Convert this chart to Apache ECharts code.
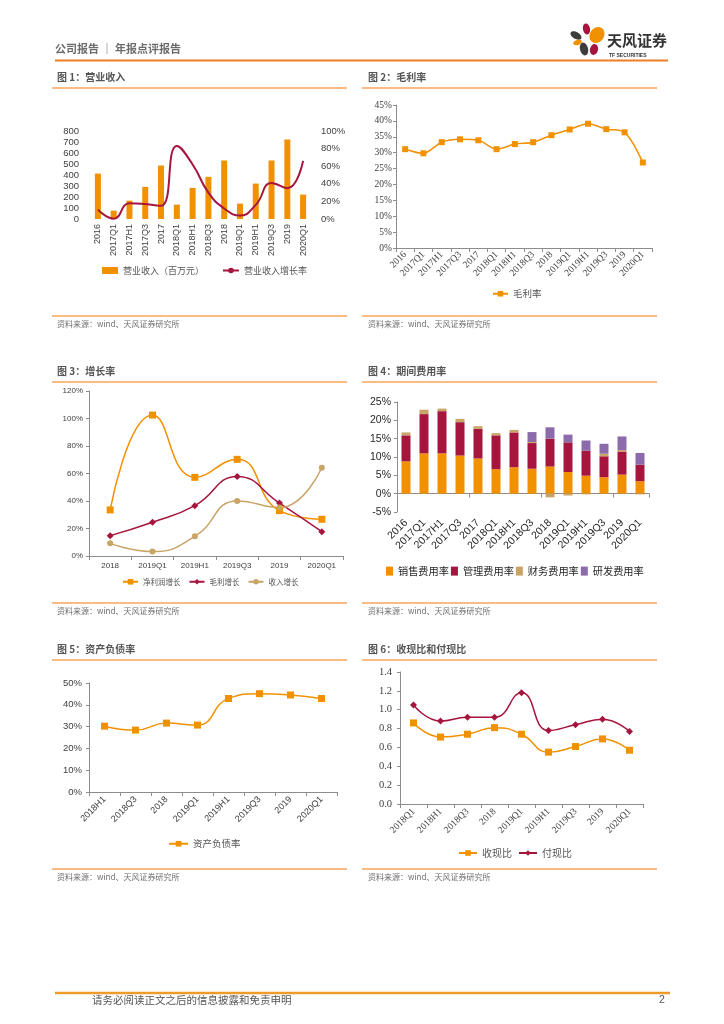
<!DOCTYPE html>
<html><head><meta charset="utf-8">
<script src="https://cdn.jsdelivr.net/npm/echarts@6/dist/echarts.min.js"></script>
<style>html,body{margin:0;padding:0;background:#fff}#c{width:724px;height:1024px}</style>
</head><body><div id="c"></div>
<script>
// ---------------- DATA ----------------
const periods14 = ['2016','2017Q1','2017H1','2017Q3','2017','2018Q1','2018H1','2018Q3','2018','2019Q1','2019H1','2019Q3','2019','2020Q1'];
const revenue = [413,76,167,292,486,131,283,383,532,140,322,532,723,222];
const revenueGrowth = [10.6,0.4,18,17,15,83,62,30,12,4,16,41,35,66];
const grossMargin = [31.1,29.8,33.3,34.2,33.9,31.1,32.7,33.3,35.5,37.3,39.1,37.4,36.4,26.9];
const periods6 = ['2018','2019Q1','2019H1','2019Q3','2019','2020Q1'];
const netProfitGrowth = [33.5,102.5,57.2,70.3,33.0,26.7];
const grossProfitGrowth = [14.8,24.5,36.6,57.9,38.5,17.7];
const incomeGrowth = [9.2,3.2,14.3,40.0,35.2,64.2];
const sellingRate = [8.8,11.0,11.0,10.4,9.6,6.7,7.2,6.8,7.4,5.9,4.9,4.5,5.2,3.4];
const adminRate = [7.1,10.7,11.5,9.1,8.1,9.2,9.5,7.0,7.6,8.1,6.8,5.7,6.3,4.5];
const financeRate = [0.8,1.2,0.7,0.9,0.7,0.6,0.7,0.3,-1.0,-0.5,-0.2,0.7,0.4,-0.2];
const rdRate = [0,0,0,0,0,0,0,2.7,3.1,2.1,2.8,2.7,3.7,3.2];
const periods8 = ['2018H1','2018Q3','2018','2019Q1','2019H1','2019Q3','2019','2020Q1'];
const debtRatio = [30.2,28.4,31.6,30.7,42.9,45.1,44.5,42.9];
const periods9 = ['2018Q1','2018H1','2018Q3','2018','2019Q1','2019H1','2019Q3','2019','2020Q1'];
const cashInRatio = [0.86,0.71,0.74,0.81,0.74,0.55,0.61,0.69,0.57];
const cashOutRatio = [1.05,0.88,0.92,0.92,1.18,0.78,0.84,0.90,0.77];

const figTitles = ['图 1：营业收入','图 2：毛利率','图 3：增长率','图 4：期间费用率','图 5：资产负债率','图 6：收现比和付现比'];
const sourceText = '资料来源：wind、天风证券研究所';

// ---------------- STYLE ----------------
const ORANGE = '#F29100', CRIMSON = '#A6153E', TAN = '#C9A467', PURPLE = '#8C6BAA';
const SANS = "'Liberation Sans','Noto Sans CJK SC',sans-serif";
const CJK = "'Noto Sans CJK SC',sans-serif";
const SERIF = "'Liberation Serif','Noto Sans CJK SC',serif";
const AX = '#8c8c8c', TXT = '#404040';

const chart = echarts.init(document.getElementById('c'), null, {renderer:'canvas'});

function catAxis(gi, data, o) {
  o = o || {};
  return Object.assign({
    type:'category', gridIndex:gi, data:data, boundaryGap:true,
    axisLine:{show:true, onZero:true, lineStyle:{color:AX, width:1}},
    axisTick:{show:true, length:4, alignWithLabel:false, lineStyle:{color:AX}},
    axisLabel:{color:TXT, fontFamily:SANS, fontSize:9, margin:5, interval:0},
    splitLine:{show:false}
  }, o);
}
function valAxis(gi, min, max, interval, fmt, o) {
  o = o || {};
  return Object.assign({
    type:'value', gridIndex:gi, min:min, max:max, interval:interval,
    axisLine:{show:true, lineStyle:{color:AX}},
    axisTick:{show:true, length:3, lineStyle:{color:AX}},
    axisLabel:{color:TXT, fontFamily:SANS, fontSize:9, margin:5, formatter:fmt},
    splitLine:{show:false}
  }, o);
}

// graphics (page chrome)
const g = [];
function txt(x, y, s, font, fill) { g.push({type:'text', left:x, top:y, silent:true, style:{text:s, font:font, fill:fill}}); }
function ln(x1, y, x2, color, w) { g.push({type:'line', silent:true, shape:{x1:x1, y1:y, x2:x2, y2:y}, style:{stroke:color, lineWidth:w}}); }
function ell(cx, cy, rx, ry, rot, color) { g.push({type:'ellipse', silent:true, x:cx, y:cy, rotation:rot, shape:{cx:0, cy:0, rx:rx, ry:ry}, style:{fill:color}}); }

txt(55, 43, '公司报告 ｜ 年报点评报告', 'bold 11px ' + CJK, '#6b6b6b');
ln(55, 60.5, 668, '#EE7F22', 2);
// logo
ell(586.5, 29, 3.5, 5.5, 0.2, CRIMSON);
ell(597, 35, 7, 8.5, -0.6, ORANGE);
ell(576, 35.5, 6, 3.5, -0.5, '#3d3d3d');
ell(577.5, 42.5, 4.5, 2.5, 0.3, ORANGE);
ell(584, 49, 4, 6.5, 0.25, '#3d3d3d');
ell(594, 49.5, 4, 5.5, -0.25, CRIMSON);
txt(607, 33, '天风证券', 'bold 15px ' + CJK, '#333333');
txt(609, 53, 'TF SECURITIES', 'bold 5px ' + SANS, '#333333');

const colX = [57, 368], lineX = [[52,347],[362,657]];
const titleY = [72, 366, 644], titleLineY = [88, 382, 660], srcLineY = [316, 603, 869], srcY = [320, 607, 873];
for (let r = 0; r < 3; r++) for (let c = 0; c < 2; c++) {
  txt(colX[c], titleY[r], figTitles[r*2+c], 'bold 10px ' + CJK, '#555555');
  ln(lineX[c][0], titleLineY[r], lineX[c][1], '#F8A55C', 1.5);
  ln(lineX[c][0], srcLineY[r], lineX[c][1], '#F8A55C', 1.5);
  txt(colX[c], srcY[r], sourceText, '8px ' + CJK, '#6e6e6e');
}
ln(55, 993, 670, '#EE9B2C', 2.5);
txt(92, 995, '请务必阅读正文之后的信息披露和免责申明', '10.5px ' + CJK, '#555555');
txt(659, 995, '2', '10.5px ' + SANS, '#555555');

const pct = '{value}%';
const option = {
  animation:false,
  backgroundColor:'#ffffff',
  textStyle:{fontFamily:SANS},
  graphic:{elements:g},
  grid:[
    {left:90, top:131, width:221, height:88},
    {left:396, top:105, width:256, height:143},
    {left:89, top:391, width:254, height:165},
    {left:397, top:402, width:252, height:110},
    {left:89, top:683, width:248, height:109},
    {left:400, top:672, width:243, height:132}
  ],
  xAxis:[
    catAxis(0, periods14, {axisLine:{show:false}, axisTick:{show:false},
      axisLabel:{color:TXT, fontFamily:SANS, fontSize:9, rotate:90, margin:5, interval:0}}),
    catAxis(1, periods14, {axisLabel:{color:TXT, fontFamily:SERIF, fontSize:9.5, rotate:45, margin:5, interval:0}}),
    catAxis(2, periods6, {axisLabel:{color:TXT, fontFamily:SANS, fontSize:8, margin:6, interval:0}}),
    catAxis(3, periods14, {axisLine:{show:false, onZero:false}, axisTick:{show:false},
      axisLabel:{color:'#262626', fontFamily:SANS, fontSize:10.5, rotate:45, margin:9, interval:0}}),
    catAxis(3, periods14, {position:'bottom', axisLine:{show:true, onZero:true, lineStyle:{color:AX}}, axisLabel:{show:false}}),
    catAxis(4, periods8, {axisLabel:{color:TXT, fontFamily:SANS, fontSize:9, rotate:45, margin:6, interval:0}}),
    catAxis(5, periods9, {axisLabel:{color:TXT, fontFamily:SERIF, fontSize:9.5, rotate:45, margin:6, interval:0}})
  ],
  yAxis:[
    valAxis(0, 0, 800, 100, '{value}', {axisLine:{show:false}, axisTick:{show:false},
      axisLabel:{color:TXT, fontFamily:SANS, fontSize:9.5, margin:11}}),
    valAxis(0, 0, 100, 20, pct, {position:'right', axisLine:{show:false}, axisTick:{show:false},
      axisLabel:{color:TXT, fontFamily:SANS, fontSize:9.5, margin:10, formatter:pct}}),
    valAxis(1, 0, 45, 5, pct, {axisLabel:{color:TXT, fontFamily:SERIF, fontSize:9.5, margin:4, formatter:pct}}),
    valAxis(2, 0, 120, 20, pct, {axisLabel:{color:TXT, fontFamily:SANS, fontSize:8, margin:6, formatter:pct}}),
    valAxis(3, -5, 25, 5, pct, {axisLabel:{color:'#262626', fontFamily:SANS, fontSize:10.5, margin:6, formatter:pct}}),
    valAxis(4, 0, 50, 10, pct, {axisLabel:{color:TXT, fontFamily:SANS, fontSize:9.5, margin:7, formatter:pct}}),
    valAxis(5, 0, 1.4, 0.2, null, {axisLabel:{color:TXT, fontFamily:SERIF, fontSize:10.5, margin:8,
      formatter:function(v){return v.toFixed(1);}}})
  ],
  legend:[
    {left:102, top:266, padding:0, itemWidth:16, itemHeight:7, itemGap:18, textStyle:{fontSize:9, color:'#555', fontFamily:CJK},
      data:[{name:'营业收入（百万元）', icon:'rect'}, {name:'营业收入增长率'}]},
    {left:492, top:289, padding:0, itemWidth:15, itemHeight:7, textStyle:{fontSize:9.5, color:'#555', fontFamily:CJK},
      data:['毛利率']},
    {left:122, top:578, padding:0, itemWidth:15, itemHeight:7, itemGap:8, textStyle:{fontSize:7.5, color:'#555', fontFamily:CJK},
      data:['净利润增长','毛利增长','收入增长']},
    {left:386, top:566, padding:0, itemWidth:7, itemHeight:9, itemGap:2, textStyle:{fontSize:10.2, color:'#262626', fontFamily:CJK},
      data:[{name:'销售费用率',icon:'rect'},{name:'管理费用率',icon:'rect'},{name:'财务费用率',icon:'rect'},{name:'研发费用率',icon:'rect'}]},
    {left:168, top:839, padding:0, itemWidth:19, itemHeight:7, textStyle:{fontSize:9.5, color:'#555', fontFamily:CJK},
      data:['资产负债率']},
    {left:458, top:848, padding:0, itemWidth:18, itemHeight:7, itemGap:6, textStyle:{fontSize:10, color:'#555', fontFamily:CJK},
      data:['收现比','付现比']}
  ],
  series:[
    {name:'营业收入（百万元）', type:'bar', xAxisIndex:0, yAxisIndex:0, data:revenue, barWidth:6, itemStyle:{color:ORANGE}},
    {name:'营业收入增长率', type:'line', xAxisIndex:0, yAxisIndex:1, data:revenueGrowth, smooth:0.5, symbol:'none',
      lineStyle:{color:CRIMSON, width:2}, itemStyle:{color:CRIMSON}},
    {name:'毛利率', type:'line', xAxisIndex:1, yAxisIndex:2, data:grossMargin, smooth:0.3, symbol:'rect', symbolSize:6,
      lineStyle:{color:ORANGE, width:1.5}, itemStyle:{color:ORANGE}},
    {name:'净利润增长', type:'line', xAxisIndex:2, yAxisIndex:3, data:netProfitGrowth, smooth:0.5, symbol:'rect', symbolSize:7,
      lineStyle:{color:ORANGE, width:1.5}, itemStyle:{color:ORANGE}},
    {name:'毛利增长', type:'line', xAxisIndex:2, yAxisIndex:3, data:grossProfitGrowth, smooth:0.5, symbol:'diamond', symbolSize:7,
      lineStyle:{color:CRIMSON, width:1.5}, itemStyle:{color:CRIMSON}},
    {name:'收入增长', type:'line', xAxisIndex:2, yAxisIndex:3, data:incomeGrowth, smooth:0.5, symbol:'circle', symbolSize:6,
      lineStyle:{color:TAN, width:1.5}, itemStyle:{color:TAN}},
    {name:'销售费用率', type:'bar', xAxisIndex:3, yAxisIndex:4, stack:'fee', data:sellingRate, barWidth:9, itemStyle:{color:ORANGE}},
    {name:'管理费用率', type:'bar', xAxisIndex:3, yAxisIndex:4, stack:'fee', data:adminRate, barWidth:9, itemStyle:{color:CRIMSON}},
    {name:'财务费用率', type:'bar', xAxisIndex:3, yAxisIndex:4, stack:'fee', data:financeRate, barWidth:9, itemStyle:{color:TAN}},
    {name:'研发费用率', type:'bar', xAxisIndex:3, yAxisIndex:4, stack:'fee', data:rdRate, barWidth:9, itemStyle:{color:PURPLE}},
    {name:'资产负债率', type:'line', xAxisIndex:5, yAxisIndex:5, data:debtRatio, smooth:0.5, symbol:'rect', symbolSize:7,
      lineStyle:{color:ORANGE, width:1.5}, itemStyle:{color:ORANGE}},
    {name:'收现比', type:'line', xAxisIndex:6, yAxisIndex:6, data:cashInRatio, smooth:0.5, symbol:'rect', symbolSize:7,
      lineStyle:{color:ORANGE, width:1.5}, itemStyle:{color:ORANGE}},
    {name:'付现比', type:'line', xAxisIndex:6, yAxisIndex:6, data:cashOutRatio, smooth:0.5, symbol:'diamond', symbolSize:7,
      lineStyle:{color:CRIMSON, width:1.5}, itemStyle:{color:CRIMSON}}
  ]
};
chart.setOption(option);
</script>
</body></html>
